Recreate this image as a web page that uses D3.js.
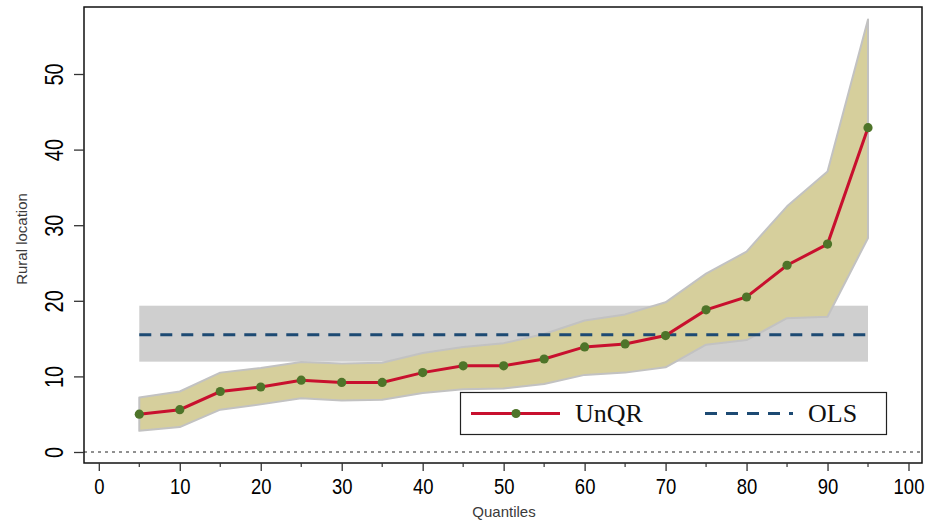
<!DOCTYPE html>
<html>
<head>
<meta charset="utf-8">
<script src="https://cdn.jsdelivr.net/npm/d3@7"></script>
<style>
  html, body { margin: 0; padding: 0; background: #fff; }
  svg { display: block; }
</style>
</head>
<body>
<svg id="chart" width="934" height="520"></svg>
<script>
// Unconditional quantile regression estimates by quantile, with confidence band
const quantiles = [5, 10, 15, 20, 25, 30, 35, 40, 45, 50, 55, 60, 65, 70, 75, 80, 85, 90, 95];
const unqr  = [5.0, 5.6, 8.0, 8.6, 9.5, 9.2, 9.2, 10.5, 11.4, 11.4, 12.3, 13.9, 14.3, 15.4, 18.8, 20.5, 24.7, 27.5, 42.9];
const upper = [7.2, 8.0, 10.5, 11.1, 11.9, 11.7, 11.8, 13.1, 13.9, 14.4, 15.6, 17.4, 18.2, 19.8, 23.6, 26.5, 32.5, 37.1, 57.2];
const lower = [2.8, 3.3, 5.6, 6.3, 7.1, 6.8, 6.9, 7.8, 8.3, 8.4, 9.0, 10.2, 10.5, 11.2, 14.2, 14.8, 17.7, 17.9, 28.3];

// OLS estimate and its confidence interval
const olsValue = 15.5;
const olsLow = 11.95;
const olsHigh = 19.35;

const xTicks = [0, 10, 20, 30, 40, 50, 60, 70, 80, 90, 100];
const xMinorTicks = [5, 15, 25, 35, 45, 55, 65, 75, 85, 95];
const yTicks = [0, 10, 20, 30, 40, 50];

const svg = d3.select("#chart");
const frame = { left: 84, right: 922, top: 7, bottom: 463 };

const x = d3.scaleLinear().domain([0, 100]).range([98.8, 908.5]);
const y = d3.scaleLinear().domain([0, 50]).range([452, 74]);

const rows = quantiles.map((q, i) => ({ q, v: unqr[i], lo: lower[i], hi: upper[i] }));

// OLS confidence band
svg.append("rect")
  .attr("x", x(quantiles[0]))
  .attr("y", y(olsHigh))
  .attr("width", x(quantiles[quantiles.length - 1]) - x(quantiles[0]))
  .attr("height", y(olsLow) - y(olsHigh))
  .attr("fill", "#cfcfcf");

// UnQR confidence band
const band = d3.area()
  .x(d => x(d.q))
  .y0(d => y(d.lo))
  .y1(d => y(d.hi));
svg.append("path")
  .datum(rows)
  .attr("d", band)
  .attr("fill", "#d6cf9c")
  .attr("stroke", "#c2c2c2")
  .attr("stroke-width", 2)
  .attr("stroke-linejoin", "round");

// zero reference line
svg.append("line")
  .attr("x1", frame.left).attr("x2", frame.right)
  .attr("y1", y(0)).attr("y2", y(0))
  .attr("stroke", "#222")
  .attr("stroke-width", 1)
  .attr("stroke-dasharray", "3,4");

// OLS estimate
svg.append("line")
  .attr("x1", x(quantiles[0]))
  .attr("x2", x(quantiles[quantiles.length - 1]))
  .attr("y1", y(olsValue)).attr("y2", y(olsValue))
  .attr("stroke", "#1d4a73")
  .attr("stroke-width", 3)
  .attr("stroke-dasharray", "12,9");

// UnQR estimates
const line = d3.line().x(d => x(d.q)).y(d => y(d.v));
svg.append("path")
  .datum(rows)
  .attr("d", line)
  .attr("fill", "none")
  .attr("stroke", "#c8102e")
  .attr("stroke-width", 3);

svg.append("g").selectAll("circle")
  .data(rows)
  .join("circle")
  .attr("cx", d => x(d.q))
  .attr("cy", d => y(d.v))
  .attr("r", 4.6)
  .attr("fill", "#4e7429");

// plot frame
svg.append("rect")
  .attr("x", frame.left).attr("y", frame.top)
  .attr("width", frame.right - frame.left)
  .attr("height", frame.bottom - frame.top)
  .attr("fill", "none")
  .attr("stroke", "#111")
  .attr("stroke-width", 1.5);

// x axis
const xAxis = svg.append("g")
  .attr("transform", `translate(0,${frame.bottom})`)
  .call(d3.axisBottom(x).tickValues(xTicks).tickSize(8).tickPadding(7).tickFormat(d3.format("d")));
xAxis.select(".domain").remove();
xAxis.selectAll(".tick line").attr("stroke", "#333").attr("stroke-width", 1.3);
xAxis.selectAll(".tick text")
  .attr("font-family", "Liberation Sans, Arial, sans-serif")
  .attr("font-size", 22)
  .attr("fill", "#000")
  .attr("transform", "scale(0.84,1)");

svg.append("g")
  .selectAll("line")
  .data(xMinorTicks)
  .join("line")
  .attr("x1", d => x(d)).attr("x2", d => x(d))
  .attr("y1", frame.bottom).attr("y2", frame.bottom + 4)
  .attr("stroke", "#333")
  .attr("stroke-width", 1.2);

// y axis
const yAxis = svg.append("g")
  .attr("transform", `translate(${frame.left},0)`)
  .call(d3.axisLeft(y).tickValues(yTicks).tickSize(10).tickPadding(0).tickFormat(d3.format("d")));
yAxis.select(".domain").remove();
yAxis.selectAll(".tick line").attr("stroke", "#333").attr("stroke-width", 1.3);
yAxis.selectAll(".tick text")
  .attr("font-family", "Liberation Sans, Arial, sans-serif")
  .attr("font-size", 25)
  .attr("fill", "#000")
  .attr("text-anchor", "middle")
  .attr("x", 0)
  .attr("dy", 0)
  .attr("transform", "translate(-21,0) rotate(-90) scale(0.8,1)");

// axis titles
svg.append("text")
  .attr("transform", `translate(27,${(frame.top + frame.bottom) / 2 + 4}) rotate(-90)`)
  .attr("text-anchor", "middle")
  .attr("font-family", "Liberation Sans, Arial, sans-serif")
  .attr("font-size", 15)
  .attr("fill", "#3a3a3a")
  .text("Rural location");

svg.append("text")
  .attr("x", 504)
  .attr("y", 517)
  .attr("text-anchor", "middle")
  .attr("font-family", "Liberation Sans, Arial, sans-serif")
  .attr("font-size", 15)
  .attr("fill", "#3a3a3a")
  .text("Quantiles");

// legend
const legend = svg.append("g");
legend.append("rect")
  .attr("x", 460.5).attr("y", 392.5)
  .attr("width", 426).attr("height", 42)
  .attr("fill", "#fff")
  .attr("stroke", "#222")
  .attr("stroke-width", 1.2);
legend.append("line")
  .attr("x1", 471).attr("x2", 560).attr("y1", 413.5).attr("y2", 413.5)
  .attr("stroke", "#c8102e").attr("stroke-width", 3);
legend.append("circle")
  .attr("cx", 516).attr("cy", 413.5).attr("r", 4.6)
  .attr("fill", "#4e7429");
legend.append("text")
  .attr("x", 575).attr("y", 422)
  .attr("font-family", "Liberation Serif, Times New Roman, serif")
  .attr("font-size", 26)
  .attr("fill", "#111")
  .text("UnQR");
legend.append("line")
  .attr("x1", 705).attr("x2", 793).attr("y1", 413.5).attr("y2", 413.5)
  .attr("stroke", "#1d4a73").attr("stroke-width", 3)
  .attr("stroke-dasharray", "12,9");
legend.append("text")
  .attr("x", 808).attr("y", 422)
  .attr("font-family", "Liberation Serif, Times New Roman, serif")
  .attr("font-size", 26)
  .attr("fill", "#111")
  .text("OLS");
</script>
</body>
</html>
